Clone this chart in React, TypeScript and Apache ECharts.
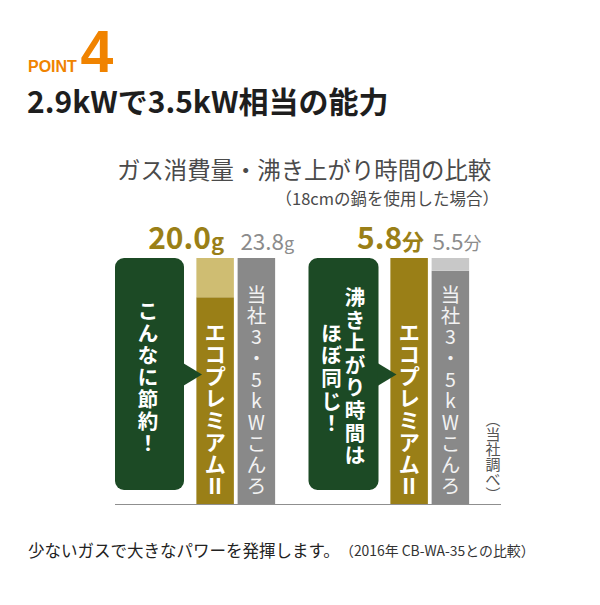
import React, { useEffect, useRef } from "react";
import * as echarts from "echarts";

// ---- data ----
const categories = ["エコプレミアムII", "当社3・5kWこんろ"];
const gasValues = [20.0, 23.8];
const timeValues = [5.8, 5.5];
const gasUnit = "g";
const timeUnit = "分";
const calloutLeft = ["こんなに節約！"];
const calloutRight = ["沸き上がり時間は", "ほぼ同じ！"];
const titleText = "2.9kWで3.5kW相当の能力";
const chartTitle = "ガス消費量・沸き上がり時間の比較";
const chartSubtitle = "（18cmの鍋を使用した場合）";
const sourceNote = "︵当社調べ︶";
const footerMain = "少ないガスで大きなパワーを発揮します。";
const footerNote = "（2016年 CB-WA-35との比較）";

// ---- styles ----
const GOLD = "#9a7f17";
const LIGHT_GOLD = "#cfbd72";
const GRAY = "#898989";
const LIGHT_GRAY = "#c8c8c8";
const GREEN = "#1c4a25";
const ORANGE = "#f08300";
const FONT = '"Noto Sans CJK JP", "Noto Sans", sans-serif';

function vertical(s: string): string {
  return (s.match(/II|./gu) || []).join("\n");
}

function buildGroup(gi: number, values: number[], unit: string, ecoOffset: number, grayOffset: number) {
  const max = Math.max(...values);
  const mainColors = [GOLD, GRAY];
  const capColors = [LIGHT_GOLD, LIGHT_GRAY];
  const main = {
    type: "bar",
    xAxisIndex: gi,
    yAxisIndex: gi,
    stack: "s" + gi,
    barWidth: 37.5,
    data: values.map((v, i) => ({
      value: v,
      itemStyle: { color: mainColors[i] },
      label:
        i === 0
          ? { fontSize: 21, fontWeight: "bold", lineHeight: 22, distance: 8, color: "#ffffff" }
          : { fontSize: 19.5, fontWeight: "normal", lineHeight: 21.3, distance: 8.4, color: "#f2f2f2" },
    })),
    label: {
      show: true,
      position: "insideBottom",
      fontFamily: FONT,
      formatter: (p: any) => vertical(categories[p.dataIndex]),
    },
  };
  const cap = {
    type: "bar",
    xAxisIndex: gi,
    yAxisIndex: gi,
    stack: "s" + gi,
    barWidth: 37.5,
    data: values.map((v, i) => ({
      value: Math.round((max - v) * 100) / 100,
      itemStyle: { color: capColors[i] },
      label: i === 0 ? { align: "right", offset: [ecoOffset, 0] } : { align: "left", offset: [grayOffset, 0] },
    })),
    label: {
      show: true,
      position: "top",
      distance: 7,
      fontFamily: FONT,
      formatter: (p: any) =>
        `{n${p.dataIndex}|${values[p.dataIndex].toFixed(1)}}{u${p.dataIndex}|${unit}}`,
      rich: {
        n0: { fontSize: 30, lineHeight: 30, fontWeight: "bold", color: GOLD, fontFamily: FONT, verticalAlign: "bottom" },
        u0: { fontSize: 22, lineHeight: 22, fontWeight: "bold", color: GOLD, fontFamily: FONT, verticalAlign: "bottom" },
        n1: { fontSize: 22.5, lineHeight: 22, fontWeight: "normal", color: "#8c8c8c", fontFamily: FONT, verticalAlign: "bottom" },
        u1: { fontSize: 18, lineHeight: 18, fontWeight: "normal", color: "#8c8c8c", fontFamily: FONT, verticalAlign: "bottom" },
      },
    },
  };
  return [main, cap];
}

function text(x: number, y: number, t: string, o: any = {}) {
  return {
    type: "text",
    z: 100,
    style: {
      x,
      y,
      text: t,
      fontFamily: FONT,
      fontSize: 16,
      fill: "#222",
      textAlign: "left",
      textVerticalAlign: "middle",
      ...o,
    },
  };
}

export default function App() {
  const ref = useRef<HTMLDivElement>(null);
  useEffect(() => {
    document.body.style.margin = "0";
    if (!ref.current) return;
    const chart = echarts.init(ref.current, undefined, { renderer: "svg" });

    const leftBox = { x: 115, y: 258, w: 69, h: 232 };
    const rightBox = { x: 308.5, y: 258, w: 70, h: 232 };
    const midY = 374.5;

    const option: any = {
      animation: false,
      backgroundColor: "#ffffff",
      grid: [
        { left: 194.5, width: 82.5, top: 258, height: 246 },
        { left: 388.5, width: 82.5, top: 258, height: 246 },
      ],
      xAxis: [
        { type: "category", gridIndex: 0, data: categories, show: false },
        { type: "category", gridIndex: 1, data: categories, show: false },
      ],
      yAxis: [
        { type: "value", gridIndex: 0, min: 0, max: Math.max(...gasValues), show: false },
        { type: "value", gridIndex: 1, min: 0, max: Math.max(...timeValues), show: false },
      ],
      series: [...buildGroup(0, gasValues, gasUnit, 9, -16), ...buildGroup(1, timeValues, timeUnit, 15, -18)],
      graphic: {
        elements: [
          text(28, 66.5, "POINT", { fontFamily: '"Liberation Sans", Arial, sans-serif', fontWeight: "bold", fontSize: 16, fill: ORANGE }),
          text(80.5, 51.5, "4", { fontFamily: '"Liberation Sans", Arial, sans-serif', fontWeight: "bold", fontSize: 59, fill: ORANGE }),
          text(27, 100, titleText, { fontWeight: "bold", fontSize: 30, fill: "#1e1e1e" }),
          text(117, 169, chartTitle, { fontSize: 23.4, fill: "#4a4a4a" }),
          text(499, 197.5, chartSubtitle, { fontSize: 16.5, fill: "#4a4a4a", textAlign: "right" }),
          // callout boxes
          { type: "rect", z: 100, shape: { x: leftBox.x, y: leftBox.y, width: leftBox.w, height: leftBox.h, r: 9 }, style: { fill: GREEN } },
          { type: "polygon", z: 100, shape: { points: [[leftBox.x + leftBox.w - 1, midY - 11.5], [202, midY], [leftBox.x + leftBox.w - 1, midY + 11.5]] }, style: { fill: GREEN } },
          { type: "rect", z: 100, shape: { x: rightBox.x, y: rightBox.y, width: rightBox.w, height: rightBox.h, r: 9 }, style: { fill: GREEN } },
          { type: "polygon", z: 100, shape: { points: [[rightBox.x + rightBox.w - 1, midY - 11.5], [396.5, midY], [rightBox.x + rightBox.w - 1, midY + 11.5]] }, style: { fill: GREEN } },
          text(148, 375.5, vertical(calloutLeft[0]), { fill: "#fff", fontWeight: "bold", fontSize: 20.5, lineHeight: 22, textAlign: "center" }),
          text(355, 375, vertical(calloutRight[0]), { fill: "#fff", fontWeight: "bold", fontSize: 20.5, lineHeight: 22.6, textAlign: "center" }),
          text(331.5, 377, vertical(calloutRight[1]), { fill: "#fff", fontWeight: "bold", fontSize: 20.5, lineHeight: 22.6, textAlign: "center" }),
          text(493, 455.5, vertical(sourceNote), { fill: "#555", fontSize: 15, lineHeight: 15, textAlign: "center" }),
          { type: "line", z: 100, shape: { x1: 115, y1: 504.5, x2: 501, y2: 504.5 }, style: { stroke: "#8f8f8f", lineWidth: 1 } },
          text(28, 550, footerMain, { fontSize: 16.5, fill: "#222" }),
          text(340, 550, footerNote, { fontSize: 13.9, fill: "#333" }),
        ],
      },
    };
    chart.setOption(option);
    return () => chart.dispose();
  }, []);
  return <div ref={ref} style={{ width: 600, height: 605 }} />;
}
